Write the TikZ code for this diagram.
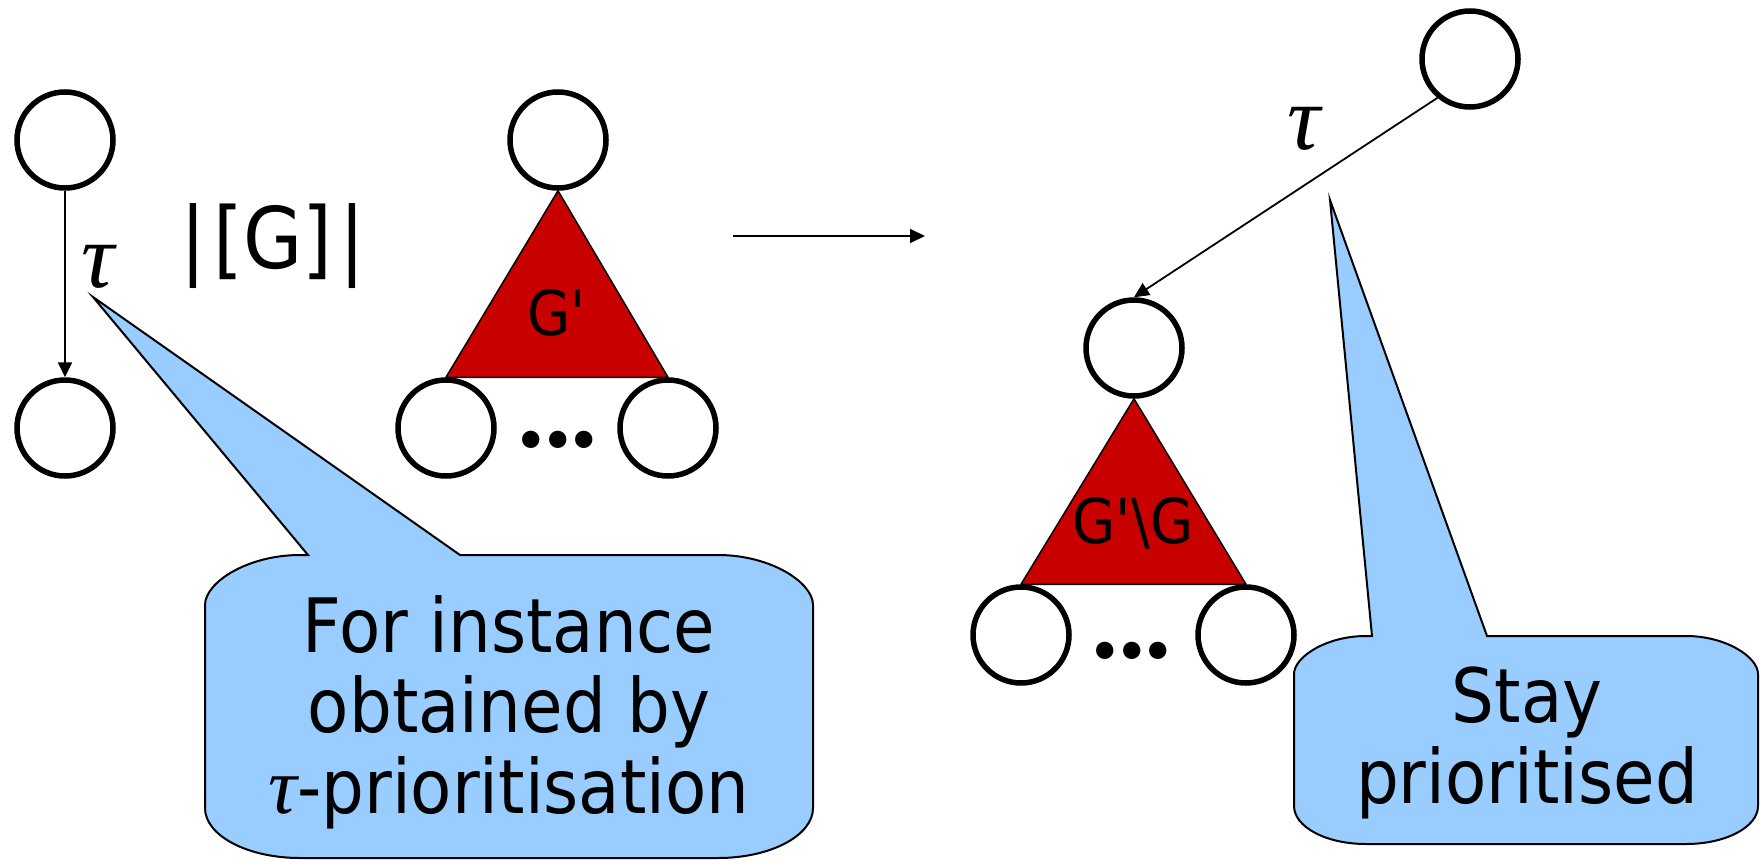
\documentclass[tikz,border=0pt]{standalone}
\usepackage{fontspec}
\newfontfamily\labelsans[FakeStretch=0.9]{DejaVu Sans}
\newfontfamily\greekserif{Liberation Serif}
\usetikzlibrary{arrows.meta,backgrounds}
\definecolor{subred}{RGB}{200,0,0}
\definecolor{calloutblue}{RGB}{153,204,255}

\begin{document}
\begin{tikzpicture}[x=1pt,y=-1pt,
  state/.style={circle,draw=black,line width=5.5pt,fill=white,minimum size=96pt,inner sep=0pt},
  trans/.style={line width=1.8pt,-{Triangle[length=15pt,width=14pt]}},
  subgraph/.style={fill=subred,draw=black,line width=1.5pt,line join=round},
  callout/.style={fill=calloutblue,draw=black,line width=2pt,line join=miter},
  bubbletext/.style={font=\labelsans\fontsize{75}{80.5}\selectfont,align=center,inner sep=0pt},
  treetext/.style={font=\labelsans\fontsize{62}{62}\selectfont,inner sep=0pt},
  taulabel/.style={font=\greekserif\itshape\fontsize{92}{92}\selectfont,inner sep=0pt},
  dots/.style={font=\fontsize{120}{120}\selectfont\bfseries,inner sep=0pt}
]
\useasboundingbox (0,0) rectangle (1760,859);

% left: a single tau step
\node[state] (a) at (65,140) {};
\node[state] (b) at (65,428) {};
\draw[trans] (a.south) -- (b.north);
\node[taulabel,anchor=base] (tauL) at (98,287) {τ};
\node[font=\labelsans\fontsize{85}{85}\selectfont,inner sep=0pt,anchor=base] (sem) at (273,268) {|\kern7pt[G]\kern7pt|};

% middle: the subgraph G'
\node[state] (t1) at (558,140) {};
\node[state] (l1) at (446,428) {};
\node[state] (r1) at (668,428) {};
\node[dots] (d1) at (558,440) {.\kern-11pt.\kern-11pt.};
\begin{scope}[on background layer]
  \filldraw[subgraph] (t1.south) -- (l1.north) -- (r1.north) -- cycle;
\end{scope}
\node[treetext,anchor=base] (gp) at (557,335) {G'};

% transformation arrow
\coordinate (ms) at (733,236);
\coordinate (me) at (925,236);
\draw[trans] (ms) -- (me);

% right: tau step into G'\G
\node[state] (tr) at (1470,59) {};
\node[state] (t2) at (1134,348) {};
\node[state] (l2) at (1021,635) {};
\node[state] (r2) at (1246,635) {};
\draw[trans] (tr.230) -- (t2.north);
\node[taulabel,anchor=base] (tauR) at (1304,149) {τ};
\node[dots] (d2) at (1132,651) {.\kern-11pt.\kern-11pt.};
\begin{scope}[on background layer]
  \filldraw[subgraph] (t2.south) -- (l2.north) -- (r2.north) -- cycle;
\end{scope}
\node[treetext,anchor=base] (gd) at (1133,543) {G'\textbackslash G};

% left callout
\filldraw[callout] (93,297) -- (460,555) -- (718,555)
  .. controls (770.5,555) and (813,582.4) .. (813,605) -- (813,808)
  .. controls (813,835.6) and (770.5,858) .. (718,858) -- (300,858)
  .. controls (247.5,858) and (205,835.6) .. (205,808) -- (205,605)
  .. controls (205,582.4) and (247.5,555) .. (300,555) -- (308,555) -- cycle;
\node[bubbletext,anchor=base] (note1) at (509,813)
  {For instance\\obtained by\\{\greekserif\itshape\fontsize{80}{80}\selectfont τ}-prioritisation};

% right callout
\filldraw[callout] (1330,200) -- (1487,636) -- (1686,636)
  .. controls (1725.8,636) and (1758,657) .. (1758,674) -- (1758,806)
  .. controls (1758,827) and (1725.8,844) .. (1686,844) -- (1366,844)
  .. controls (1326.2,844) and (1294,827) .. (1294,806) -- (1294,674)
  .. controls (1294,657) and (1326.2,636) .. (1366,636) -- (1372,636) -- cycle;
\node[bubbletext,anchor=base] (note2) at (1527,803) {Stay\\prioritised};
\end{tikzpicture}
\end{document}
